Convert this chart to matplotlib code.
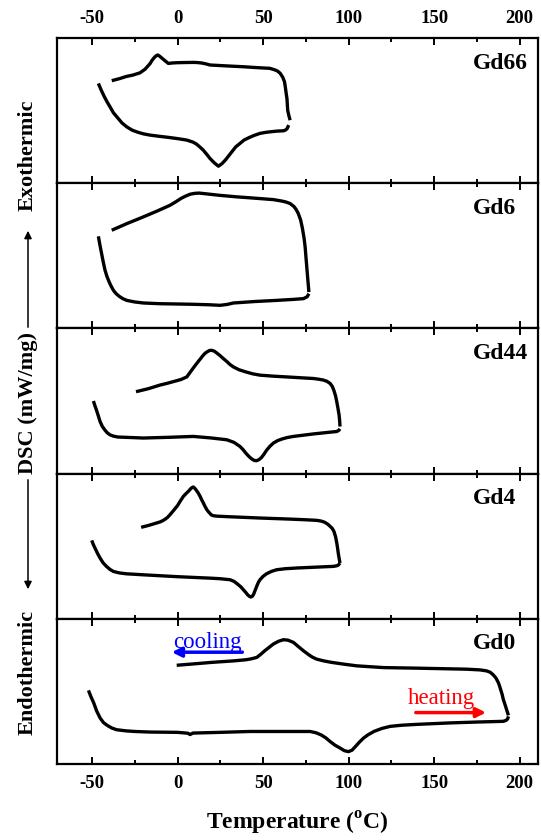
import matplotlib
matplotlib.use("Agg")
import matplotlib.pyplot as plt
from matplotlib.patches import FancyArrowPatch
from matplotlib.ticker import MultipleLocator

plt.rcParams['font.family'] = ['Liberation Serif', 'DejaVu Serif']
plt.rcParams['font.weight'] = 'bold'
plt.rcParams['axes.unicode_minus'] = False
plt.rcParams['mathtext.fontset'] = 'custom'
plt.rcParams['mathtext.rm'] = 'Liberation Serif:bold'

# sample names, top to bottom
samples = ["Gd66", "Gd6", "Gd44", "Gd4", "Gd0"]

# DSC traces, temperature in degC, signal in arbitrary (offset) units
gd66_heat_T = [-46.3, -44.8, -43, -41.2, -39.5, -37.5, -35, -32.5, -29.7, -26.5, -23, -20, -16, -10, -5, 0, 5.4, 9, 11, 13,
               15, 17, 19, 21.5, 23.9, 26, 28, 30, 32, 34, 36.5, 39, 42, 45, 48.2, 51.5, 55, 58.5, 61.9, 63, 64, 65]
gd66_heat_Q = [0.687, 0.645, 0.6, 0.56, 0.526, 0.485, 0.45, 0.415, 0.388, 0.365, 0.35, 0.34, 0.331, 0.322, 0.315, 0.307, 0.297, 0.283, 0.27, 0.25,
               0.228, 0.2, 0.17, 0.14, 0.117, 0.135, 0.16, 0.19, 0.22, 0.25, 0.274, 0.298, 0.315, 0.33, 0.343, 0.35, 0.355, 0.359, 0.361, 0.365, 0.375, 0.4]
gd66_cool_T = [65.8, 65, 64.4, 64.2, 64, 63.5, 63, 62.5, 61.5, 60, 58.5, 57, 54, 45, 38.5, 30, 19, 16.5, 14, 11.5, 9.2, 4, 0, -3, -5.4,
               -7.5, -9, -10.5, -11.6, -12.8, -14, -15, -16, -19, -22, -26, -30, -34, -38.5]
gd66_cool_Q = [0.434, 0.47, 0.503, 0.54, 0.58, 0.62, 0.664, 0.7, 0.73, 0.757, 0.772, 0.78, 0.791, 0.797, 0.802, 0.807, 0.814, 0.822, 0.828, 0.831, 0.832, 0.831, 0.83, 0.828, 0.825,
               0.845, 0.86, 0.875, 0.883, 0.875, 0.86, 0.845, 0.825, 0.785, 0.76, 0.745, 0.735, 0.72, 0.706]

gd6_heat_T = [-46.3, -45.5, -44.5, -43.5, -42.4, -41.2, -40, -38.8, -37.5, -36, -34, -32, -29.7, -25, -20, -10.2, 0, 9.2, 18, 24.9,
              29, 32.6, 45, 58, 68, 73.6, 75.8, 76.8]
gd6_heat_Q = [0.634, 0.58, 0.52, 0.46, 0.4, 0.355, 0.32, 0.29, 0.262, 0.24, 0.22, 0.205, 0.193, 0.182, 0.175, 0.17, 0.168, 0.166, 0.163, 0.159,
              0.165, 0.175, 0.185, 0.193, 0.2, 0.205, 0.218, 0.239]
gd6_cool_T = [76.8, 76, 75.3, 74.6, 74, 73, 72, 70.6, 69.3, 68, 65.8, 63.5, 61, 56, 45, 34.6, 25, 15, 12.5, 10, 7.3, 4.5, 2, -1, -4.4,
              -12, -20, -30, -38.5]
gd6_cool_Q = [0.25, 0.36, 0.46, 0.561, 0.62, 0.69, 0.745, 0.791, 0.82, 0.84, 0.86, 0.87, 0.877, 0.887, 0.897, 0.906, 0.916, 0.929, 0.932, 0.93, 0.924, 0.91, 0.895, 0.872, 0.848,
              0.808, 0.768, 0.72, 0.676]

gd44_heat_T = [-49.2, -48.4, -47.5, -46.4, -45.3, -44, -42.5, -41, -39.5, -37.5, -35, -20, -5, 9.2, 20, 28.8, 33, 36.5, 38.3, 40,
               42, 43.5, 45, 46.3, 47.7, 49, 50.5, 52, 54, 56, 58.5, 61, 64, 67.7, 80, 93.1, 94.3, 95]
gd44_heat_Q = [0.5, 0.47, 0.44, 0.4, 0.358, 0.325, 0.3, 0.28, 0.267, 0.258, 0.252, 0.245, 0.25, 0.256, 0.245, 0.233, 0.215, 0.187, 0.165, 0.14,
               0.115, 0.1, 0.09, 0.089, 0.097, 0.11, 0.133, 0.16, 0.188, 0.21, 0.227, 0.238, 0.248, 0.256, 0.274, 0.29, 0.298, 0.308]
gd44_cool_T = [95, 94.8, 94.5, 93.8, 93.1, 92.4, 91.5, 90.5, 89.2, 87.3, 85, 82, 79.4, 72, 65, 56, 48.2, 44, 40, 36, 32.6, 30.6, 29,
               26.8, 24.8, 23, 21.5, 20, 18.7, 17.5, 16.2, 15, 12.5, 10, 7.5, 5.4, 2, -2, -6, -10.2, -17, -24.3]
gd44_cool_Q = [0.324, 0.36, 0.4, 0.45, 0.495, 0.535, 0.57, 0.6, 0.621, 0.636, 0.645, 0.651, 0.655, 0.66, 0.665, 0.671, 0.678, 0.687, 0.7, 0.715, 0.735, 0.752, 0.77,
               0.792, 0.813, 0.83, 0.843, 0.849, 0.848, 0.84, 0.83, 0.815, 0.778, 0.74, 0.7, 0.666, 0.648, 0.635, 0.622, 0.61, 0.585, 0.564]

gd4_heat_T = [-50.2, -49.2, -48, -46.7, -45.3, -43.5, -41.5, -39.5, -37.5, -34, -30, -20, 0, 19, 25, 30.7, 33, 35, 37, 38.5,
              40, 41, 42, 42.8, 43.7, 44.5, 45.5, 46.5, 47.3, 48.2, 50, 52, 55, 58, 63, 70, 91.1, 93, 94, 95]
gd4_heat_Q = [0.54, 0.51, 0.48, 0.448, 0.418, 0.385, 0.36, 0.34, 0.326, 0.316, 0.31, 0.303, 0.29, 0.28, 0.276, 0.269, 0.258, 0.24, 0.22, 0.2,
              0.18, 0.165, 0.155, 0.15, 0.155, 0.17, 0.2, 0.23, 0.252, 0.269, 0.292, 0.31, 0.327, 0.338, 0.345, 0.35, 0.361, 0.365, 0.37, 0.384]
gd4_cool_T = [95, 94.5, 94, 93.6, 93.1, 92.4, 91.5, 90.5, 89.2, 87.8, 86, 84, 81.4, 75, 65, 48.2, 30, 23, 20.9, 19.8, 19, 18, 17.1,
              16, 15, 14, 13.2, 12, 11, 10, 9.2, 8, 6.5, 5, 3.4, 1.7, 0, -2.2, -4.4, -6, -8, -10, -12.2, -17, -21.3]
gd4_cool_Q = [0.384, 0.415, 0.45, 0.485, 0.522, 0.565, 0.6, 0.622, 0.637, 0.652, 0.665, 0.673, 0.678, 0.682, 0.687, 0.694, 0.703, 0.707, 0.71, 0.715, 0.725, 0.738, 0.752,
              0.775, 0.8, 0.822, 0.843, 0.868, 0.885, 0.9, 0.908, 0.9, 0.88, 0.863, 0.843, 0.813, 0.78, 0.748, 0.717, 0.697, 0.68, 0.668, 0.66, 0.643, 0.63]

gd0_heat_T = [-52.1, -50.7, -49, -47.3, -45.3, -43.3, -41, -38.5, -35.6, -30, -25, -16.1, 0, 6, 7.3, 9, 25, 42.4, 60, 77.5,
              81, 84, 86.7, 89.2, 92, 95, 97.5, 99.9, 102, 104, 106.3, 108.7, 111.5, 115, 119.5, 124.3, 131, 140, 159.4, 175,
              188, 190.5, 192, 193, 193.5]
gd0_heat_Q = [0.507, 0.465, 0.42, 0.365, 0.317, 0.285, 0.265, 0.248, 0.236, 0.228, 0.224, 0.22, 0.218, 0.212, 0.203, 0.213, 0.218, 0.224, 0.224, 0.224,
              0.215, 0.2, 0.18, 0.155, 0.13, 0.11, 0.092, 0.085, 0.095, 0.12, 0.15, 0.178, 0.202, 0.225, 0.245, 0.259, 0.267, 0.273, 0.283, 0.289,
              0.293, 0.294, 0.3, 0.31, 0.328]
gd0_cool_T = [193.5, 192.8, 192, 191.2, 190.5, 189.8, 189, 188.3, 187.6, 186.2, 184.5, 182.8, 180.8, 177, 169.1, 140, 120.4, 104.8, 97,
              90, 85.5, 81.4, 79, 77, 75.3, 73.6, 70.5, 67.7, 64.5, 61.9, 59, 56, 53.5, 51, 48.6, 46.3, 43, 40, 32.6, 20, 10, -0.5]
gd0_cool_Q = [0.335, 0.36, 0.39, 0.42, 0.444, 0.48, 0.51, 0.537, 0.56, 0.592, 0.615, 0.632, 0.641, 0.648, 0.653, 0.66, 0.664, 0.676, 0.688,
              0.7, 0.71, 0.722, 0.735, 0.75, 0.765, 0.78, 0.81, 0.838, 0.853, 0.856, 0.845, 0.826, 0.803, 0.78, 0.755, 0.734, 0.724, 0.718, 0.71, 0.7, 0.69, 0.68]

heat_T = [gd66_heat_T, gd6_heat_T, gd44_heat_T, gd4_heat_T, gd0_heat_T]
heat_Q = [gd66_heat_Q, gd6_heat_Q, gd44_heat_Q, gd4_heat_Q, gd0_heat_Q]
cool_T = [gd66_cool_T, gd6_cool_T, gd44_cool_T, gd4_cool_T, gd0_cool_T]
cool_Q = [gd66_cool_Q, gd6_cool_Q, gd44_cool_Q, gd4_cool_Q, gd0_cool_Q]

W, H = 541, 840
fig = plt.figure(figsize=(W / 100, H / 100), dpi=100)

left_px, right_px, top_px, panel_h = 57, 537.7, 38, 145.2
axes = []
for i, name in enumerate(samples):
    bottom = 1 - (top_px + (i + 1) * panel_h) / H
    ax = fig.add_axes([left_px / W, bottom, (right_px - left_px) / W, panel_h / H])
    axes.append(ax)

    ax.plot(heat_T[i], heat_Q[i], color='black', lw=2.4, solid_joinstyle='round', solid_capstyle='butt')
    ax.plot(cool_T[i], cool_Q[i], color='black', lw=2.4, solid_joinstyle='round', solid_capstyle='butt')

    ax.set_xlim(-70.5, 210.6)
    ax.set_ylim(0, 1)
    ax.set_yticks([])
    ax.xaxis.set_major_locator(MultipleLocator(50))
    ax.xaxis.set_minor_locator(MultipleLocator(25))
    ax.tick_params(axis='x', which='both', direction='in', top=True, bottom=True,
                   labeltop=(i == 0), labelbottom=(i == len(samples) - 1),
                   labelsize=13.5, pad=8, width=1.4)
    ax.tick_params(axis='x', which='major', length=5)
    ax.tick_params(axis='x', which='minor', length=3)
    for sp in ax.spines.values():
        sp.set_linewidth(1.6)

    ax.text(0.865, 0.90, name, transform=ax.transAxes, ha='left', va='top',
            fontsize=17, fontweight='bold')

# cooling / heating markers in the Gd0 panel
ax0 = axes[-1]
ax0.text(-2.6, 0.80, "cooling", color='blue', fontsize=16.5, fontweight='normal', ha='left', va='baseline')
ax0.annotate('', xy=(-5, 0.77), xytext=(39.5, 0.77),
             arrowprops=dict(arrowstyle='-|>', color='blue', lw=2.5, mutation_scale=14))
ax0.text(134.8, 0.41, "heating", color='red', fontsize=16.5, fontweight='normal', ha='left', va='baseline')
ax0.annotate('', xy=(182, 0.354), xytext=(137.7, 0.354),
             arrowprops=dict(arrowstyle='-|>', color='red', lw=2.5, mutation_scale=14))

# axis titles
fig.text(297 / W, 1 - 823 / H, "Temperature ($^{\\rm o}$C)", ha='center', va='center', fontsize=17, fontweight='bold')

ylab_x = 28 / W
fig.text(ylab_x, 1 - 155 / H, "Exothermic", rotation=90, ha='center', va='center', fontsize=16, fontweight='bold')
fig.text(ylab_x, 1 - 403 / H, "DSC (mW/mg)", rotation=90, ha='center', va='center', fontsize=16, fontweight='bold')
fig.text(ylab_x, 1 - 672 / H, "Endothermic", rotation=90, ha='center', va='center', fontsize=16, fontweight='bold')
fig.add_artist(FancyArrowPatch((ylab_x, 1 - 330 / H), (ylab_x, 1 - 228 / H), transform=fig.transFigure,
                               arrowstyle='-|>', mutation_scale=11, lw=1.1, color='black'))
fig.add_artist(FancyArrowPatch((ylab_x, 1 - 477 / H), (ylab_x, 1 - 592 / H), transform=fig.transFigure,
                               arrowstyle='-|>', mutation_scale=11, lw=1.1, color='black'))

fig.savefig("out.png", dpi=100)
